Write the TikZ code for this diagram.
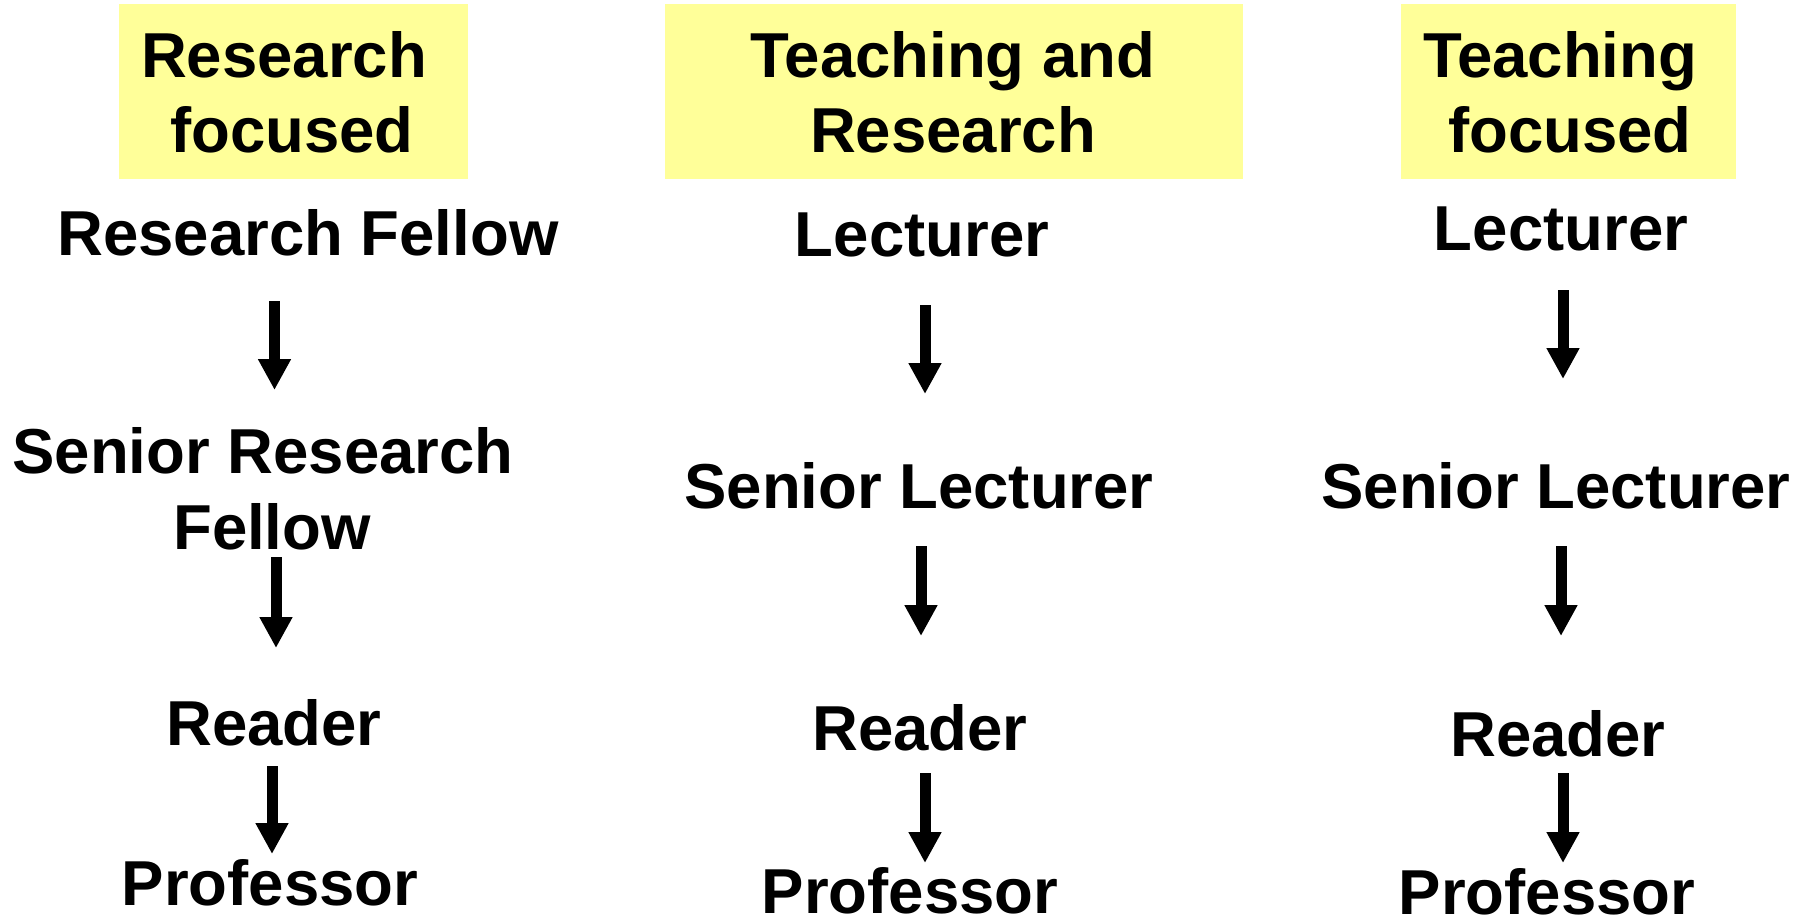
\documentclass[tikz,border=0pt]{standalone}
\usepackage{fontspec}
\setmainfont{Liberation Sans}
\usetikzlibrary{arrows.meta}
\definecolor{hdr}{HTML}{FFFF99}
\tikzset{
  lbl/.style={anchor=base, inner sep=0pt, font=\bfseries\fontsize{63.5}{75}\selectfont},
  hbox/.style={fill=hdr, draw=none},
  arr/.style={line width=11pt, -{Triangle[width=31pt,length=31pt]}}
}
\begin{document}
\begin{tikzpicture}[x=1pt,y=-1pt]
\useasboundingbox (0,0) rectangle (1810,916);
% header boxes
\fill[hbox] (119,4) rectangle (468,179);
\fill[hbox] (665,4) rectangle (1243,179);
\fill[hbox] (1401,4) rectangle (1736,179);
% headers
\node[lbl] (h1a) at (284,77) {Research};
\node[lbl] (h1b) at (292,152) {focused};
\node[lbl] (h2a) at (953,77) {Teaching and};
\node[lbl] (h2b) at (953,152) {Research};
\node[lbl] (h3a) at (1560,77) {Teaching};
\node[lbl] (h3b) at (1570,152) {focused};
% column 1
\node[lbl] (rf) at (308,255) {Research Fellow};
\node[lbl] (srfa) at (263,473) {Senior Research};
\node[lbl] (srfb) at (272,549) {Fellow};
\node[lbl] (rd1) at (274,745) {Reader};
\node[lbl] (pr1) at (270,905) {Professor};
% column 2
\node[lbl] (lc2) at (922,256) {Lecturer};
\node[lbl] (sl2) at (919,508) {Senior Lecturer};
\node[lbl] (rd2) at (920,750) {Reader};
\node[lbl] (pr2) at (910,913) {Professor};
% column 3
\node[lbl] (lc3) at (1561,250) {Lecturer};
\node[lbl] (sl3) at (1556,508) {Senior Lecturer};
\node[lbl] (rd3) at (1558,756) {Reader};
\node[lbl] (pr3) at (1547,914) {Professor};
% arrow end points
\coordinate (a1s) at (274.5,301); \coordinate (a1e) at (274.5,390);
\coordinate (a2s) at (276,557);   \coordinate (a2e) at (276,648);
\coordinate (a3s) at (272,766);   \coordinate (a3e) at (272,854);
\coordinate (b1s) at (925,305);   \coordinate (b1e) at (925,394);
\coordinate (b2s) at (921,546);   \coordinate (b2e) at (921,636);
\coordinate (b3s) at (925,773);   \coordinate (b3e) at (925,863);
\coordinate (c1s) at (1563,290);  \coordinate (c1e) at (1563,379);
\coordinate (c2s) at (1561,546);  \coordinate (c2e) at (1561,636);
\coordinate (c3s) at (1563,773);  \coordinate (c3e) at (1563,863);
\foreach \p in {a1,a2,a3,b1,b2,b3,c1,c2,c3}{
  \draw[arr] (\p s) -- (\p e);
}
\end{tikzpicture}
\end{document}
